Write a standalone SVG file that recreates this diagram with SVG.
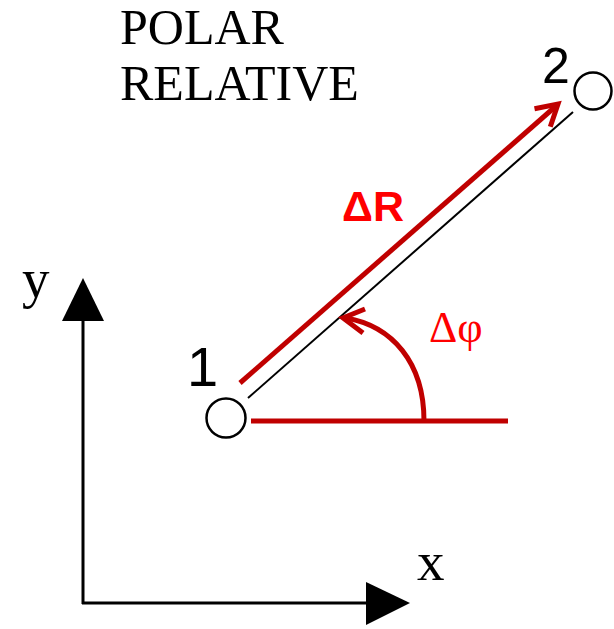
<svg xmlns="http://www.w3.org/2000/svg" width="614" height="629" viewBox="0 0 614 629">
<style>
.serif{font-family:"Liberation Serif","Times New Roman",serif;fill:#000}
.sans{font-family:"Liberation Sans",Arial,sans-serif;fill:#000}
.red{stroke:#C00000;fill:none;stroke-width:5}
.blk{stroke:#000;fill:none}
.node{fill:#fff;stroke:#000;stroke-width:2.5}
</style>
<rect width="614" height="629" fill="#fff"/>
<g id="title">
<text class="serif" x="120" y="44" font-size="50">POLAR</text>
<text class="serif" x="120" y="100" font-size="50">RELATIVE</text>
</g>
<g id="axes">
<line class="blk" x1="83" y1="604" x2="83" y2="318" stroke-width="3"/>
<polygon points="83,278 62,321 104,321" fill="#000"/>
<line class="blk" x1="82" y1="603" x2="368" y2="603" stroke-width="3"/>
<polygon points="410,603 366,582 366,625" fill="#000"/>
<text class="serif" x="22" y="297" font-size="55">y</text>
<text class="serif" x="417" y="580" font-size="55">x</text>
</g>
<g id="connectors">
<line class="blk" x1="248" y1="398" x2="573" y2="112" stroke-width="2"/>
<line class="red" x1="240" y1="383" x2="556" y2="106"/>
<polyline class="red" points="550.3,126.7 558,104 534.5,108.7" stroke-linejoin="miter"/>
<line class="red" x1="251" y1="421" x2="508" y2="421" stroke-width="4.5"/>
<path class="red" d="M424,421 C424,362 392,326 346,318"/>
<polyline class="red" points="365,309 343,318 363,333"/>
</g>
<g id="labels">
<text x="342" y="221" font-size="43" font-weight="bold" font-family="Liberation Sans,Arial,sans-serif" fill="#FF0000">ΔR</text>
<text x="429" y="342" font-size="44" font-family="Liberation Serif,Times New Roman,serif" fill="#FF0000">Δφ</text>
</g>
<g id="node1">
<circle class="node" cx="226" cy="418" r="19.5"/>
<text class="sans" x="187" y="386" font-size="56">1</text>
</g>
<g id="node2">
<circle class="node" cx="593" cy="91" r="18.5"/>
<text class="sans" x="542" y="83" font-size="50">2</text>
</g>
</svg>
